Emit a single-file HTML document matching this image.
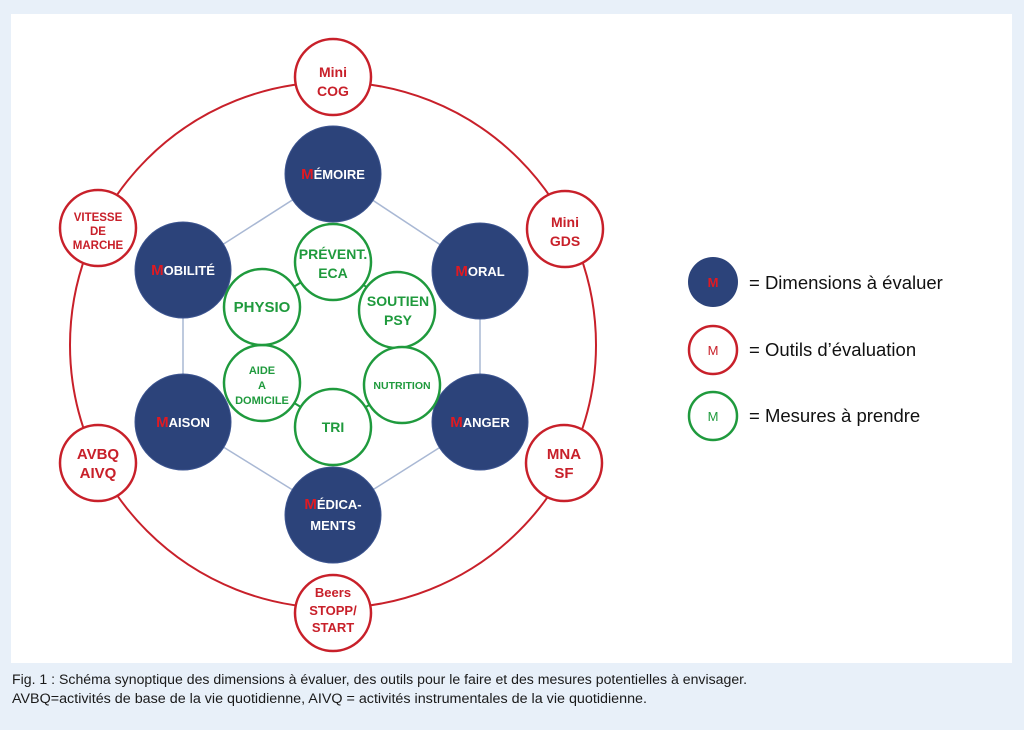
<!DOCTYPE html>
<html><head><meta charset="utf-8"><style>
html,body{margin:0;padding:0;background:#e8f0f9;width:1024px;height:730px;overflow:hidden}
svg{position:absolute;left:0;top:0}
</style></head><body>
<svg width="1024" height="730" viewBox="0 0 1024 730" font-family="Liberation Sans, sans-serif">
<rect x="0" y="0" width="1024" height="730" fill="#e8f0f9"/>
<rect x="11" y="14" width="1001" height="649" fill="#fff"/>
<circle cx="333" cy="345" r="263" fill="none" stroke="#c8202a" stroke-width="2"/>
<g stroke="#a9b8d4" stroke-width="1.5">
<line x1="333" y1="174" x2="480" y2="271"/><line x1="480" y1="271" x2="480" y2="422"/>
<line x1="480" y1="422" x2="333" y2="515"/><line x1="333" y1="515" x2="183" y2="422"/>
<line x1="183" y1="422" x2="183" y2="270"/><line x1="183" y1="270" x2="333" y2="174"/>
</g>
<g stroke="#1f9a3d" stroke-width="2">
<line x1="333" y1="262" x2="397" y2="310"/><line x1="397" y1="310" x2="402" y2="385"/>
<line x1="402" y1="385" x2="333" y2="427"/><line x1="333" y1="427" x2="262" y2="383"/>
<line x1="262" y1="383" x2="262" y2="307"/><line x1="262" y1="307" x2="333" y2="262"/>
</g>
<g fill="#fff" stroke="#c8202a" stroke-width="2.5">
<circle cx="333" cy="77" r="38"/><circle cx="565" cy="229" r="38"/><circle cx="564" cy="463" r="38"/>
<circle cx="333" cy="613" r="38"/><circle cx="98" cy="463" r="38"/><circle cx="98" cy="228" r="38"/>
</g>
<g fill="#c8202a" font-size="14" text-anchor="middle" font-weight="bold">
<text x="333" y="77">Mini</text><text x="333" y="96">COG</text>
<text x="565" y="227">Mini</text><text x="565" y="246">GDS</text>
<text x="564" y="459" font-size="15">MNA</text><text x="564" y="478" font-size="15">SF</text>
<text x="333" y="597" font-size="13">Beers</text><text x="333" y="615" font-size="13">STOPP/</text><text x="333" y="632" font-size="13">START</text>
<text x="98" y="459" font-size="15">AVBQ</text><text x="98" y="478" font-size="15">AIVQ</text>
<text x="98" y="221" font-size="11.5">VITESSE</text><text x="98" y="235" font-size="11.5">DE</text><text x="98" y="249" font-size="11.5">MARCHE</text>
</g>
<g fill="#2c437a" stroke="#3d5590" stroke-width="1">
<circle cx="333" cy="174" r="48"/><circle cx="480" cy="271" r="48"/><circle cx="480" cy="422" r="48"/>
<circle cx="333" cy="515" r="48"/><circle cx="183" cy="422" r="48"/><circle cx="183" cy="270" r="48"/>
</g>
<g fill="#fff" font-size="13" text-anchor="middle" font-weight="bold">
<text x="333" y="179"><tspan fill="#e01a22" font-size="15">M</tspan>ÉMOIRE</text>
<text x="480" y="276"><tspan fill="#e01a22" font-size="15">M</tspan>ORAL</text>
<text x="480" y="427"><tspan fill="#e01a22" font-size="15">M</tspan>ANGER</text>
<text x="333" y="509"><tspan fill="#e01a22" font-size="15">M</tspan>ÉDICA-</text><text x="333" y="530">MENTS</text>
<text x="183" y="427"><tspan fill="#e01a22" font-size="15">M</tspan>AISON</text>
<text x="183" y="275"><tspan fill="#e01a22" font-size="15">M</tspan>OBILITÉ</text>
</g>
<g fill="#fff" stroke="#1f9a3d" stroke-width="2.5">
<circle cx="333" cy="262" r="38"/><circle cx="397" cy="310" r="38"/><circle cx="402" cy="385" r="38"/>
<circle cx="333" cy="427" r="38"/><circle cx="262" cy="383" r="38"/><circle cx="262" cy="307" r="38"/>
</g>
<g fill="#1f9a3d" text-anchor="middle" font-size="14" font-weight="bold">
<text x="333" y="259">PRÉVENT.</text><text x="333" y="278">ECA</text>
<text x="398" y="306">SOUTIEN</text><text x="398" y="325">PSY</text>
<text x="402" y="389" font-size="10.5">NUTRITION</text>
<text x="333" y="432">TRI</text>
<text x="262" y="374" font-size="11">AIDE</text><text x="262" y="389" font-size="11">A</text><text x="262" y="404" font-size="11">DOMICILE</text>
<text x="262" y="312" font-size="15">PHYSIO</text>
</g>
<circle cx="713" cy="282" r="25" fill="#2c437a"/>
<text x="713" y="287" fill="#e01a22" font-size="13" text-anchor="middle" font-weight="bold">M</text>
<circle cx="713" cy="350" r="24" fill="#fff" stroke="#c8202a" stroke-width="2.5"/>
<text x="713" y="355" fill="#c8202a" font-size="13" text-anchor="middle">M</text>
<circle cx="713" cy="416" r="24" fill="#fff" stroke="#1f9a3d" stroke-width="2.5"/>
<text x="713" y="421" fill="#1f9a3d" font-size="13" text-anchor="middle">M</text>
<g fill="#111" font-size="18.5">
<text x="749" y="289">= Dimensions à évaluer</text>
<text x="749" y="356">= Outils d’évaluation</text>
<text x="749" y="422">= Mesures à prendre</text>
</g>
<g fill="#1a1a1a" font-size="13.5">
<text x="12" y="684" textLength="735" lengthAdjust="spacingAndGlyphs">Fig. 1 : Schéma synoptique des dimensions à évaluer, des outils pour le faire et des mesures potentielles à envisager.</text>
<text x="12" y="703" textLength="635" lengthAdjust="spacingAndGlyphs">AVBQ=activités de base de la vie quotidienne, AIVQ = activités instrumentales de la vie quotidienne.</text>
</g>
</svg>
</body></html>
